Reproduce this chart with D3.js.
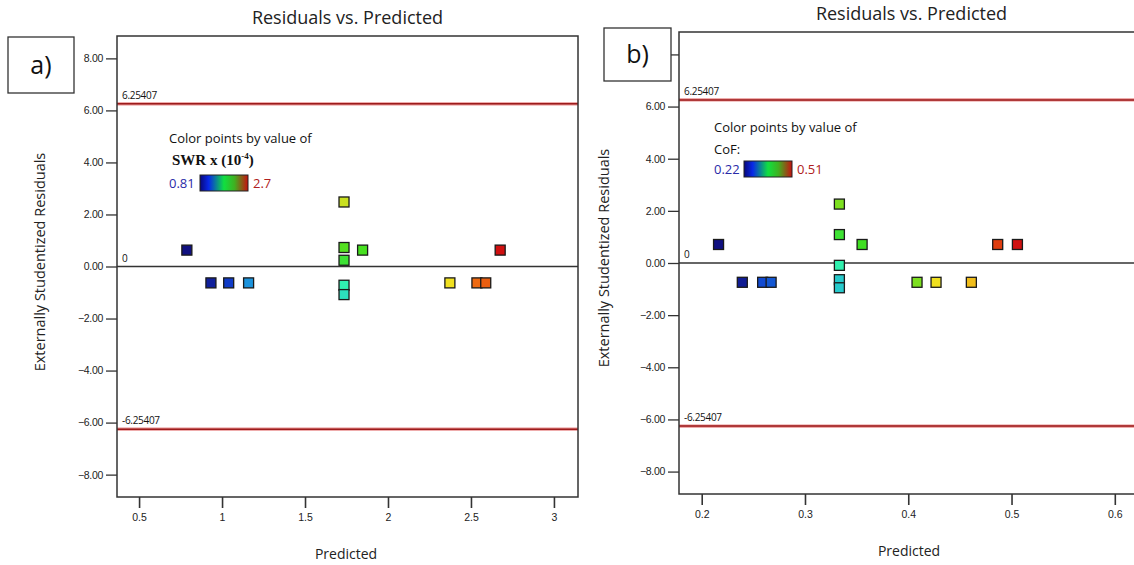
<!DOCTYPE html>
<html>
<head>
<meta charset="utf-8">
<script src="https://cdn.jsdelivr.net/npm/d3@7"></script>
<style>
  body { margin: 0; background: #fff; }
  svg { display: block; font-family: "Open Sans", "DejaVu Sans", sans-serif; }
</style>
</head>
<body>
<div id="chart"></div>
<script>
// panel a) values : SWR x (10^-4)
var aPredicted = [0.788, 0.933, 1.04, 1.16, 1.735, 1.735, 1.735, 1.735, 1.735, 1.847, 2.373, 2.536, 2.589, 2.676];
var aResidual  = [0.63, -0.63, -0.63, -0.63, 2.48, 0.73, 0.24, -0.72, -1.08, 0.63, -0.63, -0.63, -0.63, 0.63];
var aColorVal  = [0.81, 0.9, 1.05, 1.28, 2.1, 1.92, 1.85, 1.62, 1.55, 1.9, 2.16, 2.45, 2.48, 2.7];
var aXTicks = [0.5, 1, 1.5, 2, 2.5, 3];

// panel b) values : CoF
var bPredicted = [0.2163, 0.2393, 0.259, 0.2672, 0.3333, 0.3333, 0.3333, 0.3333, 0.3333, 0.3553, 0.4085, 0.4269, 0.4611, 0.4866, 0.5057];
var bResidual  = [0.71, -0.74, -0.74, -0.74, 2.26, 1.09, -0.09, -0.64, -0.95, 0.71, -0.74, -0.74, -0.74, 0.71, 0.71];
var bColorVal  = [0.22, 0.23, 0.265, 0.27, 0.40, 0.38, 0.345, 0.32, 0.32, 0.385, 0.40, 0.427, 0.44, 0.49, 0.51];
var bXTicks = [0.2, 0.3, 0.4, 0.5, 0.6];

var yTicks = [8, 6, 4, 2, 0, -2, -4, -6, -8];
var limit = 6.25407;
var pointColors = ["#101080", "#1040d0", "#20b0e0", "#30f0b0", "#40e020", "#f0e020", "#f07010", "#d01010"];

const W = 1134, H = 565;
const svg = d3.select("#chart").append("svg")
  .attr("width", W)
  .attr("height", H);

function draw_panel(p) {
  const x = d3.scaleLinear().domain(p.xDomain).range([p.left, p.right]);
  const y = d3.scaleLinear().domain([-8.86, 8.86]).range([p.bottom, p.top]);
  const cmin = p.cRange[0], cmax = p.cRange[1];
  const color = d3.scaleLinear()
    .domain(d3.range(pointColors.length).map(i => cmin + (cmax - cmin) * i / (pointColors.length - 1)))
    .range(pointColors);

  const g = svg.append("g");

  // title
  g.append("text")
    .attr("x", (p.left + p.right) / 2 - p.titleShift)
    .attr("y", p.top - 12)
    .attr("text-anchor", "middle")
    .style("font-size", "18px")
    .attr("fill", "#222")
    .text("Residuals vs. Predicted");

  // axes (the b) box hides the top label, so it is left blank there)
  const fmt = d3.format(".2f");
  g.append("g")
    .attr("transform", `translate(${p.left},0)`)
    .call(d3.axisLeft(y).tickValues(yTicks).tickFormat(d => p.hideTop && d == 8 ? "" : fmt(d)).tickSize(11).tickPadding(3))
    .call(a => a.select(".domain").remove())
    .call(a => a.selectAll("line").attr("stroke", "#333").attr("stroke-width", 1.3))
    .call(a => a.selectAll("text").style("font-size", "10.5px").attr("fill", "#222").style("letter-spacing", "-0.3px"));

  g.append("g")
    .attr("transform", `translate(0,${p.bottom})`)
    .call(d3.axisBottom(x).tickValues(p.xTicks).tickFormat(d3.format("")).tickSize(11).tickPadding(6))
    .call(a => a.select(".domain").remove())
    .call(a => a.selectAll("line").attr("stroke", "#333").attr("stroke-width", 1.6))
    .call(a => a.selectAll("text").style("font-size", "10.5px").attr("fill", "#222"));

  // axis titles
  g.append("text")
    .attr("transform", `translate(${p.yTitleX},${p.yTitleY}) rotate(-90)`)
    .attr("text-anchor", "middle")
    .attr("dy", "0.35em")
    .style("font-size", "14.5px")
    .attr("fill", "#222")
    .text("Externally Studentized Residuals");

  g.append("text")
    .attr("x", p.xTitleX)
    .attr("y", p.xTitleY)
    .attr("text-anchor", "middle")
    .attr("dy", "0.35em")
    .style("font-size", "14px")
    .attr("fill", "#222")
    .text("Predicted");

  // limit lines
  [limit, -limit].forEach(function(v) {
    g.append("line")
      .attr("x1", p.left).attr("x2", p.right)
      .attr("y1", y(v)).attr("y2", y(v))
      .attr("stroke", "#e89090").attr("stroke-width", 3.2);
    g.append("line")
      .attr("x1", p.left).attr("x2", p.right)
      .attr("y1", y(v)).attr("y2", y(v))
      .attr("stroke", "#9c1c1c").attr("stroke-width", 1.6);
    g.append("text")
      .attr("x", p.left + 5)
      .attr("y", y(v) - 5)
      .style("font-size", "10px")
      .style("letter-spacing", "-0.3px")
      .attr("fill", "#111")
      .text(v > 0 ? "6.25407" : "-6.25407");
  });

  // zero line
  g.append("line")
    .attr("x1", p.left).attr("x2", p.right)
    .attr("y1", y(0)).attr("y2", y(0))
    .attr("stroke", "#333").attr("stroke-width", 1.5);
  g.append("text")
    .attr("x", p.left + 5)
    .attr("y", y(0) - 5)
    .style("font-size", "10px")
    .attr("fill", "#111")
    .text("0");

  // frame
  g.append("rect")
    .attr("x", p.left).attr("y", p.top)
    .attr("width", p.right - p.left).attr("height", p.bottom - p.top)
    .attr("fill", "none").attr("stroke", "#333").attr("stroke-width", 1.5);

  // points
  const s = 10;
  g.append("g")
    .selectAll("rect")
    .data(p.pred.map((d, i) => ({px: d, r: p.res[i], c: p.cval[i]})))
    .join("rect")
      .attr("x", d => x(d.px) - s / 2)
      .attr("y", d => y(d.r) - s / 2)
      .attr("width", s)
      .attr("height", s)
      .attr("fill", d => color(d.c))
      .attr("stroke", "#1a1a1a")
      .attr("stroke-width", 1.3);

  // legend
  const lg = g.append("g");
  lg.append("text")
    .attr("x", p.legX).attr("y", p.legY)
    .style("font-size", "13px")
    .attr("fill", "#111")
    .text("Color points by value of");

  const nameText = lg.append("text")
    .attr("x", p.legX + p.nameShift).attr("y", p.legY + 22)
    .attr("fill", "#111");
  if (p.serif) {
    nameText.style("font-family", "'Liberation Serif', 'DejaVu Serif', serif")
      .style("font-weight", "bold")
      .style("font-size", "15px");
    nameText.append("tspan").text("SWR x (10");
    nameText.append("tspan").attr("dy", "-6").style("font-size", "9px").text("-4");
    nameText.append("tspan").attr("dy", "6").text(")");
  } else {
    nameText.style("font-size", "13px").text(p.name);
  }

  const gid = "grad" + p.id;
  const grad = svg.append("defs").append("linearGradient").attr("id", gid);
  [["0%", "#08087a"], ["18%", "#0828e8"], ["50%", "#10e040"], ["72%", "#40b020"], ["100%", "#c81010"]]
    .forEach(st => grad.append("stop").attr("offset", st[0]).attr("stop-color", st[1]));

  const barY = p.legY + p.barDy;
  lg.append("text")
    .attr("x", p.legX).attr("y", barY + 13)
    .style("font-size", "13px")
    .attr("fill", "#2a2aa8")
    .text(p.cLabels[0]);
  lg.append("rect")
    .attr("x", p.barX).attr("y", barY)
    .attr("width", 48).attr("height", 16)
    .attr("fill", `url(#${gid})`)
    .attr("stroke", "#222").attr("stroke-width", 1);
  lg.append("text")
    .attr("x", p.barX + 53).attr("y", barY + 13)
    .style("font-size", "13px")
    .attr("fill", "#b02020")
    .text(p.cLabels[1]);

  // panel label box
  g.append("rect")
    .attr("x", p.box[0]).attr("y", p.box[1])
    .attr("width", p.box[2]).attr("height", p.box[3])
    .attr("fill", "#fff").attr("stroke", "#333").attr("stroke-width", 1.3);
  g.append("text")
    .attr("x", p.box[0] + p.box[2] / 2)
    .attr("y", p.box[1] + p.box[3] / 2)
    .attr("dy", "0.35em")
    .attr("text-anchor", "middle")
    .style("font-size", "25px")
    .attr("fill", "#111")
    .text(p.label);
}

draw_panel({
  id: "a", label: "a)",
  left: 117, right: 578, top: 36, bottom: 497,
  xDomain: [0.367, 3.145], xTicks: aXTicks,
  pred: aPredicted, res: aResidual, cval: aColorVal,
  cRange: [0.81, 2.7], cLabels: ["0.81", "2.7"],
  titleShift: 0, yTitleX: 40, yTitleY: 262, xTitleX: 346, xTitleY: 554,
  legX: 169, legY: 143, nameShift: 3, serif: true, barX: 200, barDy: 32,
  box: [8, 37, 66, 56], hideTop: false
});

draw_panel({
  id: "b", label: "b)", name: "CoF:",
  left: 679, right: 1140, top: 32, bottom: 494,
  xDomain: [0.178, 0.6244], xTicks: bXTicks,
  pred: bPredicted, res: bResidual, cval: bColorVal,
  cRange: [0.22, 0.51], cLabels: ["0.22", "0.51"],
  titleShift: -2, yTitleX: 604, yTitleY: 258, xTitleX: 909, xTitleY: 551,
  legX: 714, legY: 132, nameShift: 0, serif: false, barX: 744, barDy: 29,
  box: [604, 28, 67, 53], hideTop: true
});
</script>
</body>
</html>
